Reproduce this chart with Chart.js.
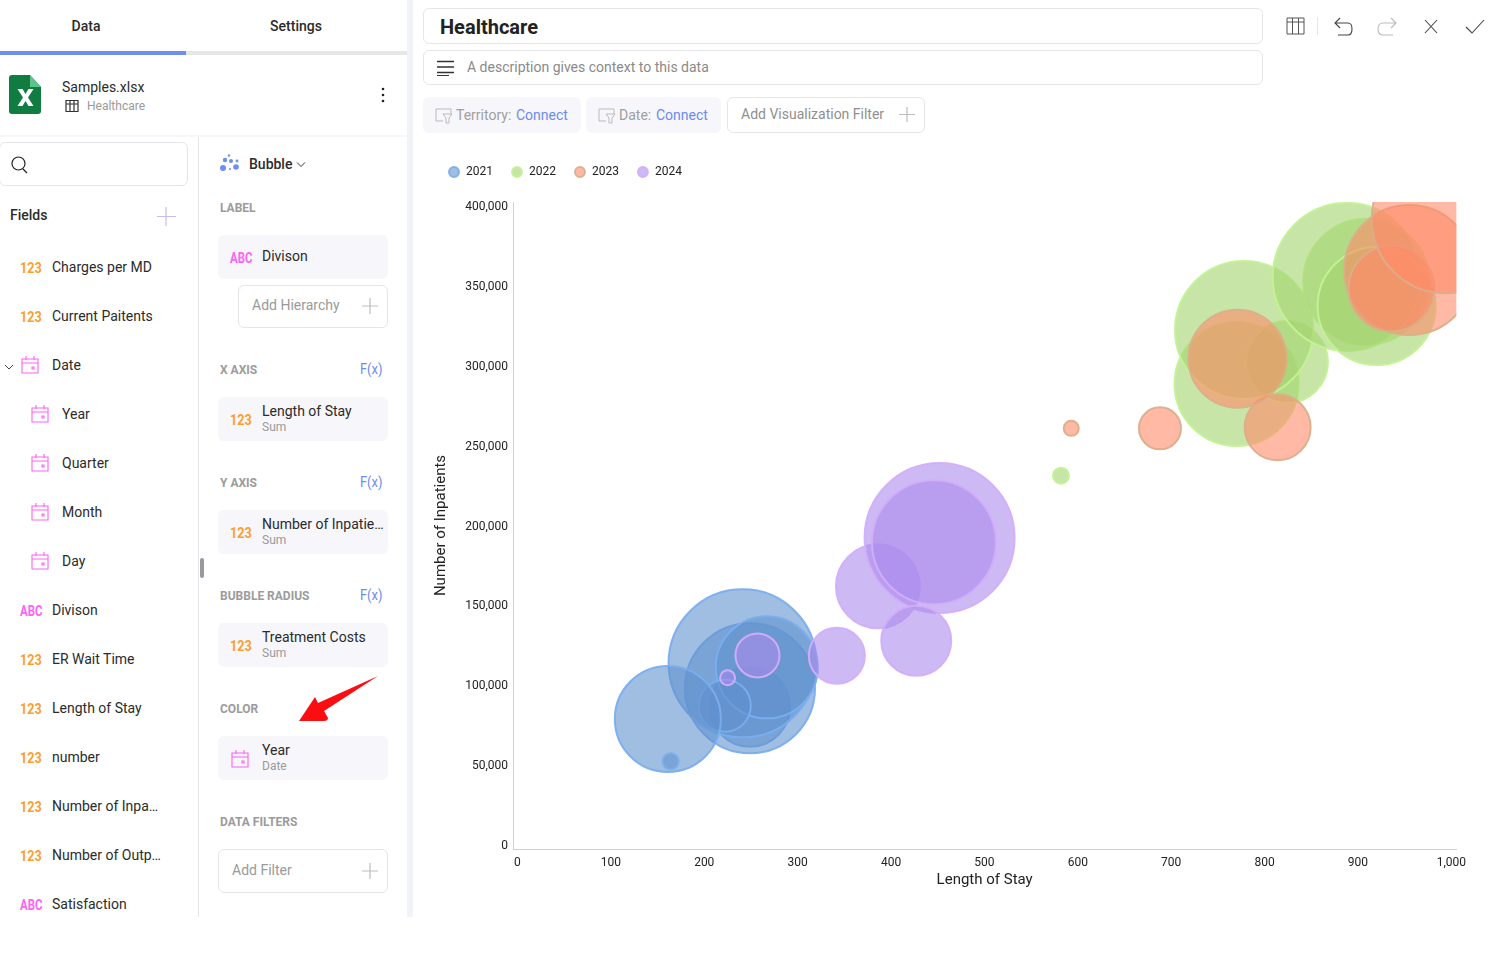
<!DOCTYPE html>
<html>
<head>
<meta charset="utf-8">
<title>Healthcare</title>
<script src="https://cdn.jsdelivr.net/npm/chart.js@4/dist/chart.umd.min.js"></script>
<style>
  html, body { margin: 0; padding: 0; background: #fff; }
  body { width: 1496px; height: 956px; overflow: hidden; position: relative; font-family: Roboto, sans-serif; color: #2b2b2b; }
  .t { position: absolute; white-space: nowrap; transform: translateY(-50%); line-height: 1; }
  .box { position: absolute; box-sizing: border-box; border: 1px solid #e6e6ea; border-radius: 6px; background: #fff; }
  .pill { position: absolute; box-sizing: border-box; border-radius: 6px; background: #f6f6fb; }
  .r { position: absolute; }
  svg { position: absolute; overflow: visible; fill: none; }
  #wrap { position: absolute; left: 427px; top: 148px; width: 1046px; height: 757px; }
</style>
</head>
<body>
<div class="r" style="left:0;top:51px;width:186px;height:4px;background:#6e8ff0"></div>
<div class="r" style="left:186px;top:51px;width:221px;height:4px;background:#e6e6e6"></div>
<div class="r" style="left:0;top:135px;width:408px;height:2px;background:#f6f6fb"></div>
<div class="r" style="left:198px;top:137px;width:1px;height:780px;background:#e6e6ec"></div>
<div class="r" style="left:200px;top:558px;width:4px;height:20px;background:#999;border-radius:2px"></div>
<div class="r" style="left:407px;top:0;width:6px;height:917px;background:#f2f2f9"></div>

<svg style="left:0;top:0" width="420" height="130">
  <path d="M12 75H30L41 87V111Q41 114 38 114H12Q9 114 9 111V78Q9 75 12 75Z" fill="#107c41"/>
  <path d="M30 75L41 87H30Z" fill="#5cc48a"/>
  <path d="M17.5 89H22.5L25.5 94L28.5 89H33.5L28 97.5L33.5 106H28.5L25.5 101L22.5 106H17.5L23 97.5Z" fill="#fff"/>
  <path d="M66 100.5H78V111.5H66ZM66 104H78M70 100.5V111.5M74 100.5V111.5" stroke="#333" stroke-width="1.2"/>
  <circle cx="383" cy="89" r="1.3" fill="#222"/><circle cx="383" cy="95" r="1.3" fill="#222"/><circle cx="383" cy="101" r="1.3" fill="#222"/>
</svg>

<div class="box" style="left:-1px;top:142px;width:189px;height:44px"></div>
<svg style="left:0;top:0" width="420" height="230">
  <circle cx="18.5" cy="163.5" r="6.5" stroke="#222" stroke-width="1.2"/><path d="M23 169L27 173" stroke="#222" stroke-width="1.2"/>
  <path d="M166 207V226M157 216.5H176" stroke="#c9bcf2" stroke-width="1.2"/>
  <g fill="#6e8ff0"><circle cx="223" cy="168" r="3"/><circle cx="236" cy="167" r="2.8"/><circle cx="225" cy="160" r="2.2"/><circle cx="231" cy="161" r="2"/><circle cx="237" cy="161" r="1.4"/><circle cx="229" cy="155.5" r="1.2"/><circle cx="230" cy="169" r="1.1"/></g>
  <path d="M297 162.5L301 166.5L305 162.5" stroke="#333" stroke-width="1"/>
</svg>

<div class="pill" style="left:218px;top:235px;width:170px;height:44px"></div>
<div class="box" style="left:238px;top:285px;width:150px;height:43px"></div>
<div class="pill" style="left:218px;top:397px;width:170px;height:44px"></div>
<div class="pill" style="left:218px;top:510px;width:170px;height:44px"></div>
<div class="pill" style="left:218px;top:623px;width:170px;height:44px"></div>
<div class="pill" style="left:218px;top:736px;width:170px;height:44px"></div>
<div class="box" style="left:218px;top:849px;width:170px;height:44px"></div>

<svg style="left:0;top:0" width="420" height="900">
  <path d="M362 306H378M370 298V314M362 871H378M370 863V879" stroke="#bdbdbd" stroke-width="1.2"/>
  <path d="M299 721L315 697L318 703L378 676L324 711L328 718Q328 721 324 721Z" fill="#fb0d12"/>
</svg>

<div class="box" style="left:423px;top:8px;width:840px;height:36px"></div>
<div class="box" style="left:423px;top:50px;width:840px;height:35px"></div>
<div class="pill" style="left:423px;top:97px;width:158px;height:36px"></div>
<div class="pill" style="left:586px;top:97px;width:135px;height:36px"></div>
<div class="box" style="left:727px;top:97px;width:198px;height:36px"></div>

<svg style="left:0;top:0" width="1496" height="140">
  <path d="M437 61.5H454M437 67H454M437 72.5H454" stroke="#333" stroke-width="1.3"/><path d="M437 75.5H449" stroke="#333" stroke-width="1"/>
  <g stroke="#bbb" stroke-width="1"><path d="M436 121V109H451V114M599 121V109H614V114M436 121H443M599 121H606"/><path d="M443 114H452L449 118V123H446V118ZM606 114H615L612 118V123H609V118Z"/></g>
  <path d="M907 107V122M899 114.5H915" stroke="#bdbdbd" stroke-width="1.2"/>
  <path d="M1287 18H1304V34H1287ZM1287 22H1304M1292.5 18V34M1298.5 18V34" stroke="#555" stroke-width="1"/>
  <path d="M1317.5 17V35" stroke="#e6e6ea"/>
  <path d="M1340 18L1335 23L1340 28M1335 23H1348Q1352 23 1352 29Q1352 35 1348 35H1338" stroke="#444" stroke-width="1.1"/>
  <path d="M1391 18L1396 23L1391 28M1396 23H1383Q1378 23 1378 29Q1378 35 1383 35H1393" stroke="#bbb" stroke-width="1.1"/>
  <path d="M1425 20L1437 33M1437 20L1425 33" stroke="#444" stroke-width="1.1"/>
  <path d="M1466 27L1472 33L1484 20" stroke="#444" stroke-width="1.1"/>
</svg>

<div id="wrap"><canvas id="chart-bubble"></canvas></div>

<script>
// Chart values, in paint order within each year
const years = ['2021', '2022', '2023', '2024'];
const yTicks = [0, 50000, 100000, 150000, 200000, 250000, 300000, 350000, 400000];
const xTicks = [0, 100, 200, 300, 400, 500, 600, 700, 800, 900, 1000];

const stay2021 = [249, 249, 241, 267, 222, 161, 164];
const inpatients2021 = [86600, 98100, 113700, 111200, 87200, 78900, 52400];
const costs2021 = [40000, 65000, 74000, 51000, 26000, 53000, 8000];

const stay2022 = [582, 770, 824, 778, 909, 888, 920];
const inpatients2022 = [231200, 288600, 302300, 322400, 352600, 355600, 337400];
const costs2022 = [8000, 62000, 41000, 69000, 63000, 74000, 59000];

const stay2023 = [593, 688, 814, 771, 955, 936, 994];
const inpatients2023 = [260800, 260800, 261500, 304400, 359900, 348500, 391700];
const costs2023 = [7500, 21000, 33000, 49000, 65000, 43000, 74000];

const stay2024 = [386, 452, 446, 427, 342, 257, 225];
const inpatients2024 = [161900, 192200, 189500, 127900, 118500, 118700, 104700];
const costs2024 = [42000, 75000, 62000, 35000, 28000, 22000, 7500];

const fields = [
  ['123', 'Charges per MD'], ['123', 'Current Paitents'], ['date', 'Date'], ['sub', 'Year'], ['sub', 'Quarter'],
  ['sub', 'Month'], ['sub', 'Day'], ['ABC', 'Divison'], ['123', 'ER Wait Time'], ['123', 'Length of Stay'],
  ['123', 'number'], ['123', 'Number of Inpa…'], ['123', 'Number of Outp…'], ['ABC', 'Satisfaction'],
];

const ORANGE = '#ff9d2b';
const PINK = '#ff62f5';
const BLUE = '#6a8cef';
const COST_PER_PX = 1000; // treatment cost for one pixel of bubble radius

// ===== Panel text =====
function label(x, y, text, css) {
  const el = document.createElement('div');
  el.className = 't';
  el.textContent = text;
  el.style.cssText = `left:${x}px;top:${y}px;` + (css || 'font-size:14px');
  document.body.appendChild(el);
  return el;
}

function badge(x, y, kind) {
  const color = kind === '123' ? ORANGE : PINK;
  const squeeze = kind === '123' ? 0.84 : 0.76;
  label(x, y + 1, kind, `font:700 15px Roboto,sans-serif;color:${color};transform:translateY(-50%) scaleX(${squeeze});transform-origin:left`);
}

function calendar(x, y) {
  document.body.insertAdjacentHTML('beforeend',
    `<svg style="left:0;top:0" width="1" height="1"><path d="M${x - 8} ${y - 6}H${x + 8}V${y + 8}H${x - 8}ZM${x - 8} ${y - 2}H${x + 8}M${x - 4} ${y - 9}V${y - 5}M${x + 4} ${y - 9}V${y - 5}M${x + 2} ${y + 2}h2v2h-2z" stroke="${PINK}" stroke-width="1.1"/></svg>`);
}

label(86, 26, 'Data', 'font-size:14px;font-weight:500;transform:translate(-50%,-50%)');
label(296, 26, 'Settings', 'font-size:14px;font-weight:500;transform:translate(-50%,-50%)');
label(62, 87, 'Samples.xlsx');
label(87, 106, 'Healthcare', 'font-size:12px;color:#9a9a9a');
label(10, 215, 'Fields', 'font-size:14px;font-weight:500');
label(249, 164, 'Bubble', 'font-size:14px;font-weight:500');

fields.forEach(([kind, name], i) => {
  const y = 267 + i * 49;
  if (kind === '123' || kind === 'ABC') { badge(20, y, kind); label(52, y, name); }
  if (kind === 'date') {
    calendar(30, y);
    label(52, y, name);
    document.body.insertAdjacentHTML('beforeend', `<svg style="left:0;top:0" width="1" height="1"><path d="M5 ${y}L9 ${y + 4}L13 ${y}" stroke="#444"/></svg>`);
  }
  if (kind === 'sub') { calendar(40, y); label(62, y, name); }
});

const sectionCss = 'font-size:12px;font-weight:700;color:#9b9b9b';
[['LABEL', 208], ['X AXIS', 370], ['Y AXIS', 483], ['BUBBLE RADIUS', 596], ['COLOR', 709], ['DATA FILTERS', 822]]
  .forEach(([s, y]) => label(220, y, s, sectionCss));
[369, 482, 595].forEach((y) => label(360, y, 'F(x)', `font-size:14px;color:${BLUE};transform:translateY(-50%) scaleX(.92);transform-origin:left`));

badge(230, 257, 'ABC');
label(262, 256, 'Divison');
label(252, 305, 'Add Hierarchy', 'font-size:14px;color:#9a9a9a');
[['Length of Stay', 411], ['Number of Inpatie…', 524], ['Treatment Costs', 637]].forEach(([name, y]) => {
  badge(230, y + 8, '123');
  label(262, y, name);
  label(262, y + 16, 'Sum', 'font-size:12px;color:#9a9a9a');
});
calendar(240, 759);
label(262, 750, 'Year');
label(262, 766, 'Date', 'font-size:12px;color:#9a9a9a');
label(232, 870, 'Add Filter', 'font-size:14px;color:#9a9a9a');

label(440, 27, 'Healthcare', 'font-size:20px;font-weight:700;color:#222');
label(467, 67, 'A description gives context to this data', 'font-size:14px;color:#8a8a8a');
label(456, 115, 'Territory:', 'font-size:14px;color:#a0a0a0');
label(516, 115, 'Connect', `font-size:14px;color:${BLUE}`);
label(619, 115, 'Date:', 'font-size:14px;color:#a0a0a0');
label(656, 115, 'Connect', `font-size:14px;color:${BLUE}`);
label(741, 114, 'Add Visualization Filter', 'font-size:14px;color:#8f8f8f');

// ===== Bubble chart =====
function points(stay, inpatients, costs) {
  return stay.map((x, i) => ({ x, y: inpatients[i], r: costs[i] / COST_PER_PX }));
}

const pinLegend = {
  id: 'pinLegend',
  beforeInit(chart) {
    const fit = chart.legend.fit;
    chart.legend.fit = function () { fit.call(this); this.height = 54; };
  },
};

function series(i, data, fill, line) {
  return {
    label: years[i],
    data,
    backgroundColor: fill,
    borderColor: line,
    borderWidth: 2,
    clip: 0,
    order: years.length - i, // later years paint on top
  };
}

new Chart(document.getElementById('chart-bubble'), {
  type: 'bubble',
  data: {
    datasets: [
      series(0, points(stay2021, inpatients2021, costs2021), 'rgba(97,145,207,.6)', 'rgba(122,174,238,.95)'),
      series(1, points(stay2022, inpatients2022, costs2022), 'rgba(163,212,110,.6)', 'rgba(195,242,147,.95)'),
      series(2, points(stay2023, inpatients2023, costs2023), 'rgba(255,138,105,.6)', 'rgba(220,174,138,.95)'),
      series(3, points(stay2024, inpatients2024, costs2024), 'rgba(172,140,237,.6)', 'rgba(211,174,249,.95)'),
    ],
  },
  options: {
    responsive: true,
    maintainAspectRatio: false,
    animation: false,
    layout: { autoPadding: false, padding: { left: 3 } },
    plugins: {
      tooltip: { enabled: false },
      legend: {
        position: 'top',
        align: 'start',
        labels: {
          usePointStyle: true,
          pointStyle: 'circle',
          boxWidth: 13,
          boxHeight: 7,
          padding: 18,
          color: '#222',
          font: { family: 'Roboto', size: 12 },
          sort: (a, b) => a.datasetIndex - b.datasetIndex,
        },
      },
    },
    scales: {
      x: {
        type: 'linear',
        min: -4.8,
        max: 1005.35,
        afterBuildTicks: (scale) => { scale.ticks = xTicks.map((value) => ({ value })); },
        afterFit: (scale) => { scale.height = 56; },
        grid: { drawOnChartArea: false, drawTicks: false },
        border: { color: '#cfd0dc' },
        ticks: {
          padding: 7,
          color: '#222',
          maxRotation: 0,
          autoSkip: false,
          font: { family: 'Roboto', size: 12 },
          callback: (v) => v.toLocaleString('en-US'),
        },
        title: { display: true, text: 'Length of Stay', color: '#222', padding: { top: 0, bottom: 16 }, font: { family: 'Roboto', size: 15 } },
      },
      y: {
        type: 'linear',
        min: -2504,
        max: 402504,
        afterBuildTicks: (scale) => { scale.ticks = yTicks.map((value) => ({ value })); },
        afterFit: (scale) => { scale.width = 83; },
        grid: { drawOnChartArea: false, drawTicks: false },
        border: { color: '#cfd0dc' },
        ticks: {
          padding: 5,
          labelOffset: 1,
          color: '#222',
          autoSkip: false,
          font: { family: 'Roboto', size: 12 },
          callback: (v) => v.toLocaleString('en-US'),
        },
        title: { display: true, text: 'Number of Inpatients', color: '#222', padding: { top: 2, bottom: 0 }, font: { family: 'Roboto', size: 15 } },
      },
    },
  },
  plugins: [pinLegend],
});
</script>
</body>
</html>
